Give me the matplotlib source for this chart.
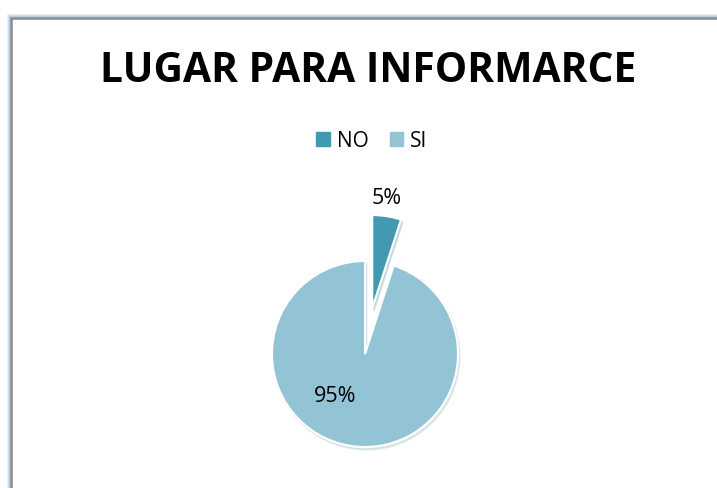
import matplotlib
matplotlib.use("Agg")
import matplotlib.pyplot as plt
from matplotlib.patches import Rectangle

title = "LUGAR PARA INFORMARCE"
categories = ["NO", "SI"]
values = [5, 95]
labels_pct = ["5%", "95%"]
colors = ["#4399B0", "#93C4D6"]

W, H = 717, 489
fig = plt.figure(figsize=(W / 100, H / 100), dpi=100)
fig.patch.set_facecolor("white")

# frame with soft blue glow
for i, a in enumerate([0.15, 0.3, 0.5]):
    off = 3 - i
    fig.patches.append(Rectangle(((11 - off) / W, -0.1), 1.2, 1.1 - (19 - off) / H,
                                 transform=fig.transFigure, fill=False,
                                 edgecolor="#8DB4E2", lw=1.5, alpha=a))
fig.patches.append(Rectangle((11 / W, -0.1), 1.2, 1.1 - 19 / H, transform=fig.transFigure,
                             fill=False, edgecolor="#8C8C8C", lw=1.8))

fig.text(368 / W, 1 - 71 / H, title, ha="center", va="center", fontsize=29.3,
         fontweight="bold", family="Open Sans", color="black")

cx, cy, r = 365, 355, 93
half = 220
ax = fig.add_axes([(cx - half) / W, 1 - (cy + half) / H, 2 * half / W, 2 * half / H])
lim = half / r

wedges, _ = ax.pie(values, colors=colors, startangle=90, counterclock=False,
                   explode=[0.5, 0], radius=1,
                   wedgeprops=dict(edgecolor="white", linewidth=1.5),
                   shadow=dict(ox=0.012, oy=-0.02, shade=0.15, alpha=0.2),
                   frame=True)
ax.axis("off")
ax.set_xlim(-lim, lim)
ax.set_ylim(-lim, lim)
ax.set_aspect("equal")

ax.text((387 - cx) / r, (cy - 198) / r, labels_pct[0], ha="center", va="center",
        fontsize=15.5, family="Open Sans", clip_on=False)
ax.text((335 - cx) / r, (cy - 397) / r, labels_pct[1], ha="center", va="center",
        fontsize=15.5, family="Open Sans", clip_on=False)

# legend
handles = [Rectangle((0, 0), 1, 1, color=c) for c in colors]
fig.legend(handles, categories, loc="center", bbox_to_anchor=(372 / W, 1 - 142 / H),
           ncol=2, frameon=False, handlelength=0.65, handleheight=0.65,
           handletextpad=0.35, columnspacing=1.0, prop={"family": "Open Sans", "size": 15})

fig.savefig("out.png", dpi=100)
